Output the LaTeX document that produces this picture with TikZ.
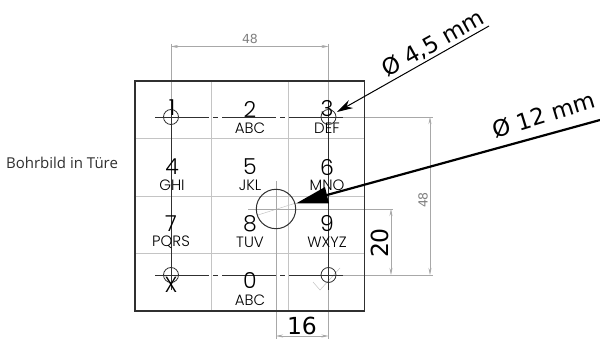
\documentclass[tikz,border=0pt]{standalone}
\usepackage{fontspec}
\setmainfont{DejaVu Sans}
\newfontfamily\keyfont{Poppins Light}
\newfontfamily\labelfont{Open Sans}
\usetikzlibrary{arrows.meta}
\definecolor{dimgrey}{HTML}{A8A8A8}
\definecolor{gridgrey}{HTML}{C4C4C4}
\definecolor{inkdark}{HTML}{303030}
\tikzset{
  gridline/.style={gridgrey,line width=0.7pt},
  outline/.style={inkdark,line width=1.1pt},
  centre/.style={inkdark,line width=0.7pt,dash pattern=on 54pt off 4pt on 5pt off 4pt},
  hole/.style={inkdark,line width=0.8pt},
  extline/.style={dimgrey,line width=0.6pt},
  dimline/.style={dimgrey,line width=0.6pt,{Stealth[length=7pt,width=3pt]}-{Stealth[length=7pt,width=3pt]}},
  digit/.style={font=\keyfont\fontsize{22}{22}\selectfont,text=black,inner sep=0pt},
  letters/.style={font=\keyfont\fontsize{15}{15}\selectfont,text=black,inner sep=0pt},
  dimgreytext/.style={font=\fontsize{12.5}{12.5}\selectfont,text=gray,inner sep=0pt},
  dimtext/.style={font=\fontsize{23.5}{23.5}\selectfont,text=black,inner sep=0pt},
  calltext/.style={font=\fontsize{22.8}{22.8}\selectfont,text=black,inner sep=0pt},
}
\begin{document}
\begin{tikzpicture}[x=1pt,y=-1pt]
\useasboundingbox[fill=white] (0,0) rectangle (600,339);
% grid
\draw[gridline] (211.5,81) -- (211.5,311);
\draw[gridline] (288,81) -- (288,311);
\draw[gridline] (135,138) -- (364.5,138);
\draw[gridline] (135,196) -- (364.5,196);
\draw[gridline] (135,253) -- (364.5,253);
% extension lines and dimensions
\coordinate (tl) at (171,117); \coordinate (tr) at (328.5,117);
\coordinate (bl) at (171,275); \coordinate (br) at (328.5,275);
\coordinate (big) at (276,209);
\draw[extline] (171,44) -- (171,100);
\draw[extline] (328.5,44) -- (328.5,100);
\draw[dimline] (171,46.5) -- (328.5,46.5);
\node[dimgreytext] (t48) at (250,39) {48};
\draw[extline] (340,117) -- (433,117);
\draw[extline] (340,275) -- (433,275);
\draw[dimline] (430,117) -- (430,275);
\node[dimgreytext,rotate=90] (r48) at (423,200) {48};
\draw[extline] (300,209) -- (393,209);
\draw[extline] (340,275) -- (393,275);
\draw[dimline] (391,209) -- (391,275);
\node[dimtext,rotate=90] (d20) at (380,243) {20};
\draw[extline] (276,225) -- (276,339);
\draw[extline] (328.5,285) -- (328.5,339);
\draw[dimline] (276,336) -- (328.5,336);
\node[dimtext] (d16) at (302,326) {16};
% faint marks
\draw[gridgrey,line width=0.5pt] (258,215) -- (296,203);
\draw[gridgrey,line width=0.5pt] (313,282) -- (320,290) -- (340,268);
% centre lines
\draw[centre] (155,117) -- (345,117);
\draw[centre] (155,275) -- (345,275);
\draw[inkdark,line width=0.6pt] (171,100) -- (171,290);
\draw[inkdark,line width=0.6pt] (328.5,100) -- (328.5,290);
\draw[dimgrey,line width=0.6pt] (248,209) -- (303,209);
\draw[dimgrey,line width=0.6pt] (276,181) -- (276,237);
% outer plate
\draw[outline] (135,81) rectangle (364.5,311);
% holes
\foreach \p in {tl,tr,bl,br} \draw[hole] (\p) circle (7.5);
\draw[hole,line width=1pt] (big) circle (19.7);
% keys
\node[digit] (k1) at (172,108) {1};
\node[digit] (k2) at (250,109) {2};
\node[letters] (l2) at (250,128.5) {ABC};
\node[digit] (k3) at (327,109) {3};
\node[letters] (l3) at (327,128.5) {DEF};
\node[digit] (k4) at (172,167) {4};
\node[letters] (l4) at (172,185.5) {GHI};
\node[digit] (k5) at (250,167) {5};
\node[letters] (l5) at (250,185.5) {JKL};
\node[digit] (k6) at (327,167) {6};
\node[letters] (l6) at (327,185.5) {MNO};
\node[digit] (k7) at (171,224) {7};
\node[letters] (l7) at (171,242.5) {PQRS};
\node[digit] (k8) at (250,224) {8};
\node[letters] (l8) at (250,242.5) {TUV};
\node[digit] (k9) at (327,224) {9};
\node[letters] (l9) at (327,242.5) {WXYZ};
\node[digit] (kx) at (171,284.5) {X};
\node[digit] (k0) at (250,281) {0};
\node[letters] (l0) at (250,300.5) {ABC};
% leaders
\coordinate (a1) at (489,26); \coordinate (a2) at (337,112);
\draw[black,line width=1pt,-{Stealth[length=16pt,width=9pt]}] (a1) -- (a2);
\node[calltext,rotate=29] (c1) at (433,44) {Ø 4,5 mm};
\coordinate (b1) at (600,120); \coordinate (b2) at (327,195);
\draw[black,line width=2.2pt] (b1) -- (b2);
\fill[black] (296,203.5) -- (325,187) -- (329,203.5) -- cycle;
\node[calltext,rotate=17] (c2) at (544,115) {Ø 12 mm};
\node[font=\labelfont\fontsize{15}{15}\selectfont,text=inkdark,inner sep=0pt] (title) at (62,163) {Bohrbild in Türe};
\end{tikzpicture}
\end{document}
